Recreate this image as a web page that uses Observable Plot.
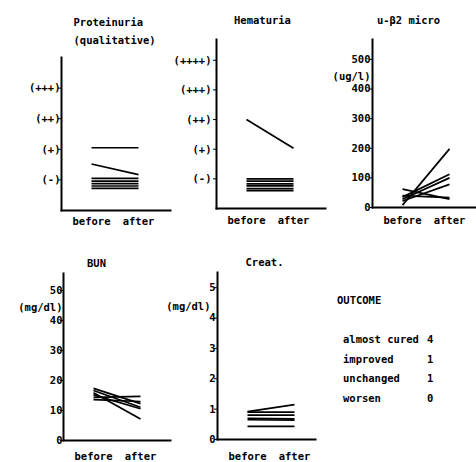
<!DOCTYPE html>
<html><head><meta charset="utf-8">
<script src="https://cdn.jsdelivr.net/npm/d3@7"></script>
<script src="https://cdn.jsdelivr.net/npm/@observablehq/plot@0.6"></script>
<style>
body{margin:0;background:#fff;}
#fig{position:relative;width:476px;height:462px;overflow:hidden;font-family:"DejaVu Sans Mono",monospace;font-weight:bold;font-size:10.5px;color:#000}
#fig svg{position:absolute;overflow:visible}
.row{position:absolute;white-space:pre;line-height:12px}
</style></head><body><div id="fig"></div>
<script>
const timepoints = ["before", "after"];
const proteinuriaLevels = ["(-)", "(+)", "(++)", "(+++)"];
const hematuriaLevels = ["(-)", "(+)", "(++)", "(+++)", "(++++)"];

const proteinuriaBefore = [2.05, 1.52, 1.05, 0.96, 0.88, 0.80, 0.72];
const proteinuriaAfter  = [2.05, 1.17, 1.05, 0.96, 0.88, 0.80, 0.72];

const hematuriaBefore = [3.0, 1.0, 0.92, 0.83, 0.76, 0.67, 0.6];
const hematuriaAfter  = [2.03, 1.0, 0.92, 0.83, 0.76, 0.67, 0.6];

const b2Before = [8, 35, 28, 22, 62, 40];
const b2After  = [198, 112, 100, 78, 28, 33];
const b2Ticks  = [0, 100, 200, 300, 400, 500];

const bunBefore = [17.4, 16.7, 15.9, 15.2, 14.4, 13.6];
const bunAfter  = [12.3, 11.1, 7.2, 10.6, 14.7, 13.0];
const bunTicks  = [0, 10, 20, 30, 40, 50];

const creatBefore = [0.92, 0.90, 0.80, 0.70, 0.65, 0.43];
const creatAfter  = [1.15, 0.90, 0.80, 0.68, 0.64, 0.43];
const creatTicks  = [0, 1, 2, 3, 4, 5];

const outcomeLabels = ["almost cured", "improved", "unchanged", "worsen"];
const outcomeCounts = [4, 1, 1, 0];

const fig = document.getElementById("fig");

function panel(o) {
  const rows = o.before.map((b, i) => ({b, a: o.after[i]}));
  const ml = o.axis - o.left;
  const mt = o.topY - o.top;
  const mb = o.top + o.height - o.base;
  const marks = [
    Plot.axisY({ticks: o.ticks, tickFormat: o.tickFormat, tickSize: 3, tickPadding: o.tickPadding, label: null, fontSize: 10.5}),
    Plot.axisX({tickSize: 0, tickPadding: o.xPad, label: null, fontSize: 10.5}),
    Plot.frame({anchor: "left", strokeWidth: 2}),
    Plot.frame({anchor: "bottom", strokeWidth: 2}),
    Plot.link(rows, {x1: () => timepoints[0], x2: () => timepoints[1], y1: "b", y2: "a", stroke: "black", strokeWidth: 1.7}),
    Plot.text([o.title], {text: d => d, frameAnchor: "top-left", textAnchor: o.titleAnchor || "middle", lineAnchor: "bottom", lineHeight: 1.7, dx: o.titleDx, dy: o.titleDy, fontSize: 10.5, fontWeight: "bold"})
  ];
  if (o.unit) marks.push(Plot.text([o.unit], {text: d => d, frameAnchor: "top-left", textAnchor: "end", dx: o.unitDx, dy: o.unitDy, fontSize: 10.5, fontWeight: "bold"}));
  const chart = Plot.plot({
    width: o.width, height: o.height,
    marginLeft: ml, marginRight: 0, marginTop: mt, marginBottom: mb,
    x: {type: "point", domain: timepoints, range: [ml + 30, ml + 77], padding: 0, align: 0.5},
    y: {domain: o.yDomain},
    style: {fontFamily: "DejaVu Sans Mono", fontWeight: "bold", fontSize: "10.5px", background: "transparent", color: "black", overflow: "visible"},
    marks
  });
  chart.style.left = o.left + "px";
  chart.style.top = o.top + "px";
  fig.appendChild(chart);
}

panel({left: 0, top: 0, width: 170, height: 232, axis: 61, topY: 57, base: 210,
  yDomain: [0, 5], ticks: proteinuriaLevels.map((_, i) => i + 1), tickFormat: d => proteinuriaLevels[d - 1], tickPadding: -2,
  before: proteinuriaBefore, after: proteinuriaAfter, xPad: 7,
  title: "Proteinuria\n(qualitative)", titleAnchor: "start", titleDx: 12, titleDy: -14});

panel({left: 170, top: 0, width: 155, height: 232, axis: 216, topY: 39, base: 208,
  yDomain: [0, 5.7], ticks: hematuriaLevels.map((_, i) => i + 1), tickFormat: d => hematuriaLevels[d - 1], tickPadding: 2,
  before: hematuriaBefore, after: hematuriaAfter, xPad: 8,
  title: "Hematuria", titleDx: 46, titleDy: -16});

panel({left: 325, top: 0, width: 151, height: 232, axis: 372, topY: 39, base: 207,
  yDomain: [0, 567], ticks: b2Ticks, tickFormat: d => d, tickPadding: -1,
  before: b2Before, after: b2After, xPad: 9,
  title: "u-β2 micro", titleDx: 36, titleDy: -16, unit: "(ug/l)", unitDx: -2, unitDy: 33});

panel({left: 0, top: 232, width: 170, height: 230, axis: 63, topY: 273, base: 440,
  yDomain: [0, 55.7], ticks: bunTicks, tickFormat: d => d, tickPadding: -2,
  before: bunBefore, after: bunAfter, xPad: 12,
  title: "BUN", titleDx: 33, titleDy: -7, unit: "(mg/dl)", unitDx: -1, unitDy: 30});

panel({left: 170, top: 232, width: 145, height: 230, axis: 217, topY: 272, base: 439,
  yDomain: [0, 5.5], ticks: creatTicks, tickFormat: d => d, tickPadding: -1,
  before: creatBefore, after: creatAfter, xPad: 13,
  title: "Creat.", titleDx: 47, titleDy: -7, unit: "(mg/dl)", unitDx: -7, unitDy: 30});

// Outcome table
const head = document.createElement("div");
head.className = "row";
head.style.left = "337px"; head.style.top = "294px";
head.textContent = "OUTCOME";
fig.appendChild(head);
outcomeLabels.forEach((lab, i) => {
  const r = document.createElement("div");
  r.className = "row";
  r.style.left = "343px"; r.style.top = (333 + i * 19.6) + "px";
  r.textContent = lab;
  fig.appendChild(r);
  const n = document.createElement("div");
  n.className = "row";
  n.style.left = "427px"; n.style.top = (333 + i * 19.6) + "px";
  n.textContent = String(outcomeCounts[i]);
  fig.appendChild(n);
});
</script></body></html>
